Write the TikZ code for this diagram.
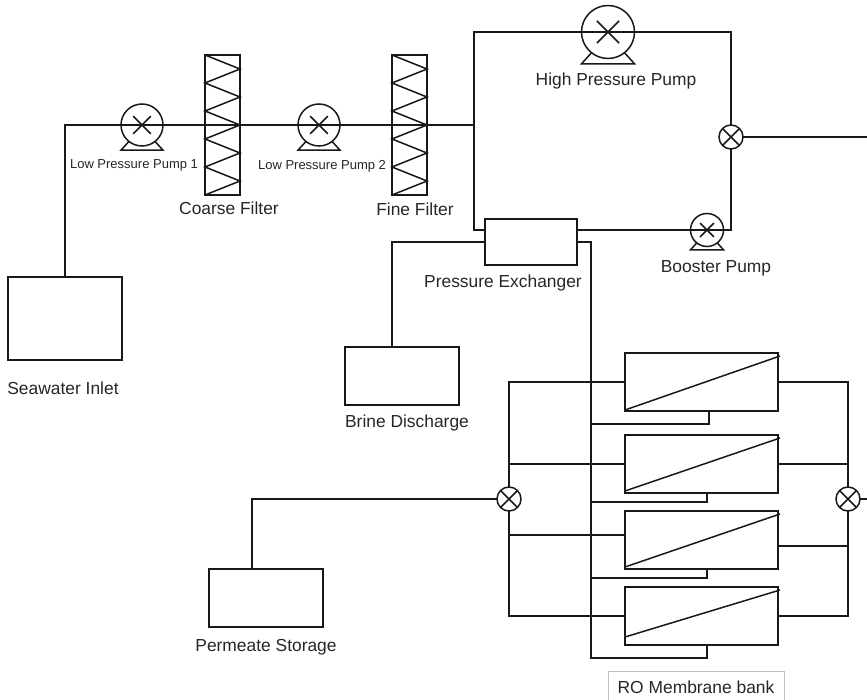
\documentclass[tikz,border=0pt]{standalone}
\usepackage{fontspec}
\setmainfont{Liberation Sans}
\tikzset{
  x=1pt,y=-1pt,
  pipe/.style={line width=1.5pt,black!90,line join=miter},
  boxn/.style={draw=black!90,line width=1.5pt,inner sep=0pt,outer sep=0pt,fill=white},
  tank/.style={boxn,minimum width=114pt,minimum height=83pt},
  filterbox/.style={boxn,minimum width=35pt,minimum height=140pt,fill=none},
  memb/.style={boxn,minimum width=153pt,minimum height=58pt},
  valve/.style={circle,draw=black!90,line width=1.5pt,inner sep=0pt,outer sep=0pt,minimum size=24pt,fill=white,path picture={
    \draw[line width=1.5pt,black!90] (path picture bounding box.north west)--(path picture bounding box.south east)
      (path picture bounding box.north east)--(path picture bounding box.south west);}},
  pumpc/.style={circle,draw=black!90,line width=1.5pt,inner sep=0pt,outer sep=0pt,minimum size=#1,fill=none},
  big/.style={font=\fontsize{17.4}{20}\selectfont,text=black!85,inner sep=0pt},
  small/.style={font=\fontsize{13}{15}\selectfont,text=black!85,inner sep=0pt}
}
\newcommand{\pumpsym}[2]{% node name, radius
  \draw[pipe] (#1.center)++(-#2*0.42,-#2*0.42)--++(#2*0.84,#2*0.84) (#1.center)++(#2*0.42,-#2*0.42)--++(-#2*0.84,#2*0.84);
  \draw[pipe] (#1.center)++(-#2*0.62,#2*0.78)--++(-#2*0.38,#2*0.42)--++(#2*2,0)--++(-#2*0.38,-#2*0.42);
}
\newcommand{\zigzag}[1]{%
  \draw[pipe] (#1.north west)--++(35,14)--++(-35,14)--++(35,14)--++(-35,14)--++(35,14)--++(-35,14)--++(35,14)--++(-35,14)--++(35,14)--++(-35,14);
}
\begin{document}
\begin{tikzpicture}
\useasboundingbox (0,0) rectangle (867,700);
\node[tank] (sea) at (65,318.5) {};
\node[tank,minimum height=58pt] (brine) at (402,376) {};
\node[tank,minimum height=58pt] (perm) at (266,598) {};
\node[pumpc=42pt] (lp1) at (142,125) {};
\node[pumpc=42pt] (lp2) at (319,125) {};
\node[pumpc=53pt] (hp) at (608,32) {};
\node[pumpc=33pt] (boost) at (707,230) {};
\node[filterbox] (cf) at (222.5,125) {};
\node[filterbox] (ff) at (409.5,125) {};
\node[boxn,minimum width=92pt,minimum height=46pt] (px) at (531,242) {};
\node[valve] (vt) at (731,137) {};
\node[valve] (vl) at (509,499) {};
\node[valve] (vr) at (848,499) {};
\node[memb] (m1) at (701.5,382) {};
\node[memb] (m2) at (701.5,464) {};
\node[memb] (m3) at (701.5,540) {};
\node[memb] (m4) at (701.5,616) {};
\coordinate (end1) at (867,137);
\coordinate (end2) at (867,499);
\coordinate (seaTurn) at (65,125);
\coordinate (ja) at (474,125);
\coordinate (tl) at (474,32);
\coordinate (tr) at (731,32);
\coordinate (bl) at (474,230);
\coordinate (br) at (731,230);
\coordinate (brineTop) at (392,347);
\coordinate (brineOut) at (485,242);
\coordinate (pxOut) at (577,242);
\coordinate (bus) at (591,242);
\coordinate (busEnd) at (591,658);
\coordinate (pxL) at (485,230);
\coordinate (pxR) at (577,230);
\coordinate (permTop) at (252,569);
\coordinate (d1) at (709,411);
\coordinate (d2) at (707,493);
\coordinate (d3) at (707,569);
\coordinate (d4) at (707,645);
\coordinate (r3) at (778,546);
\coordinate (l3) at (625,535);
\begin{scope}[pipe]
\draw (sea.north -| seaTurn) -- (seaTurn) -- (lp1.center);
\draw (lp1.center) -- (cf.west);
\draw (cf.east) -- (lp2.center);
\draw (lp2.center) -- (ff.west);
\draw (ff.west) -- (ff.east) -- (ja);
\draw (cf.west) -- (cf.east);
\draw (pxL) -- (bl) -- (tl) -- (hp.center) -- (tr) -- (vt.north);
\draw (vt.south) -- (br) -- (boost.center);
\draw (boost.center) -- (pxR);
\draw (vt.east) -- (end1);
\draw (brineTop) |- (brineOut);
\draw (pxOut) -- (bus) -- (busEnd) -| (d4);
\draw (d1) |- (bus |- 0,424);
\draw (d2) |- (bus |- 0,502);
\draw (d3) |- (bus |- 0,578);
\draw (permTop) |- (vl.west);
\draw (vr.east) -- (end2);
\draw (vl.north) |- (m1.west);
\draw (vl.north) |- (m2.west);
\draw (vl.south) |- (l3);
\draw (vl.south) |- (m4.west);
\draw (vr.north) |- (m1.east);
\draw (vr.north) |- (m2.east);
\draw (vr.south) |- (r3);
\draw (vr.south) |- (m4.east);
\end{scope}
\zigzag{cf}\zigzag{ff}
\pumpsym{lp1}{21}\pumpsym{lp2}{21}\pumpsym{hp}{26.5}\pumpsym{boost}{16.5}
\draw[pipe] (m1.west |- 0,410) -- (780,356);
\draw[pipe] (m2.west |- 0,491) -- (780,438);
\draw[pipe] (m3.west |- 0,567) -- (780,514);
\draw[pipe] (m4.west |- 0,637) -- (780,590);
\node[small] (t1) at (134,165.5) {Low Pressure Pump 1};
\node[small] (t2) at (322,166.5) {Low Pressure Pump 2};
\node[big] (t3) at (229,208) {Coarse Filter};
\node[big] (t4) at (415,209) {Fine Filter};
\node[big] (t5) at (616,81) {High Pressure Pump};
\node[big] (t6) at (716,268) {Booster Pump};
\node[big] (t7) at (503,283) {Pressure Exchanger};
\node[big] (t8) at (63,388) {Seawater Inlet};
\node[big] (t9) at (407,423) {Brine Discharge};
\node[big] (t10) at (266,647) {Permeate Storage};
\node[big,draw=black!25,line width=1pt,minimum width=176pt,minimum height=32pt,outer sep=0pt] (ro) at (696,687) {RO Membrane bank};
\end{tikzpicture}
\end{document}
